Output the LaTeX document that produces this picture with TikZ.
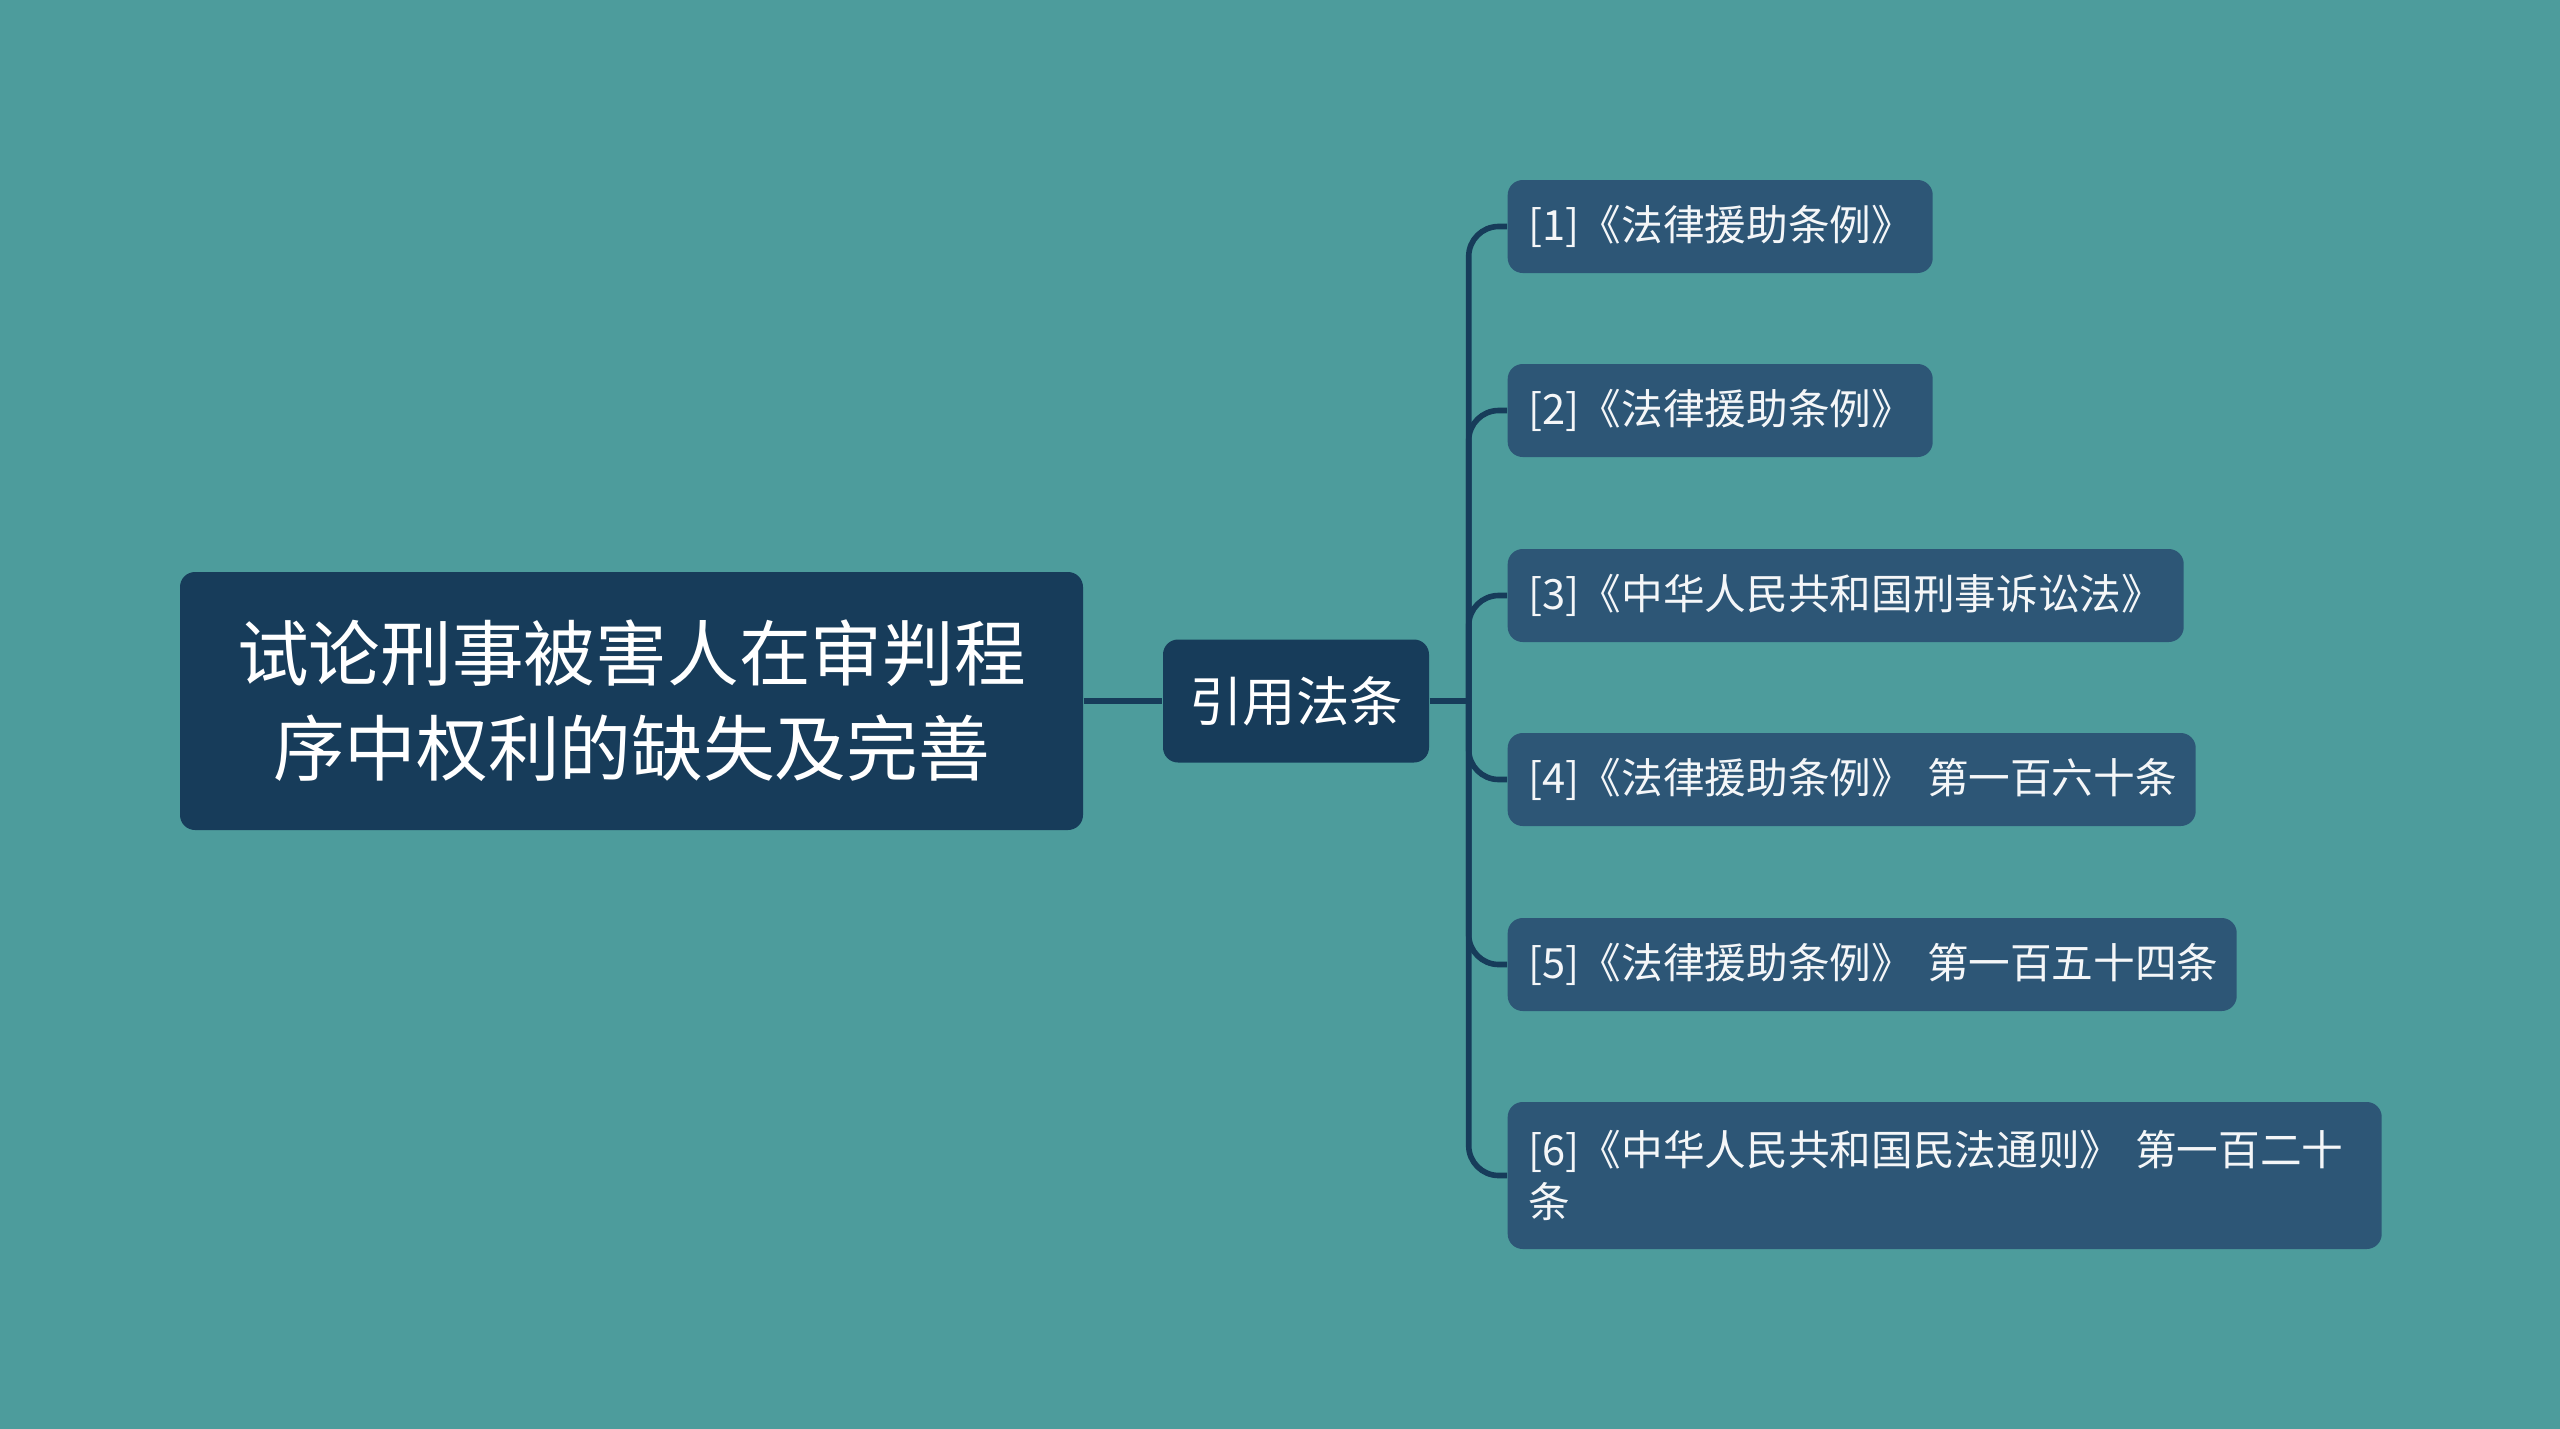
\documentclass[tikz,border=0pt]{standalone}
\usepackage{fontspec}
\setmainfont{Noto Sans CJK SC}
\usetikzlibrary{calc, positioning}
\definecolor{bg}{HTML}{4D9C9C}
\definecolor{navy}{HTML}{173C5A}
\definecolor{slate}{HTML}{2D5676}
\definecolor{ink}{HTML}{F4F6F8}
\tikzset{
  topic/.style={fill=navy, rounded corners=0.15cm, text=white, align=center},
  lawref/.style={fill=slate, rounded corners=0.15cm, text=ink, anchor=west, align=left, inner xsep=0.21cm, minimum height=0.93cm, text width=#1, font=\fontsize{11.85}{14.8}\selectfont},
  link/.style={draw=navy, line width=1.6pt},
}
\begin{document}
\begin{tikzpicture}
  \fill[bg] (0,0) rectangle (25.6,-14.29);
  \useasboundingbox (0,0) rectangle (25.6,-14.29);

  \node[topic, minimum width=9.03cm, minimum height=2.58cm, font=\fontsize{20.4}{27}\selectfont] (root) at (6.315,-7.01) {试论刑事被害人在审判程\\序中权利的缺失及完善};
  \node[topic, minimum width=2.66cm, minimum height=1.23cm, font=\fontsize{15.2}{18}\selectfont] (laws) at (12.96,-7.01) {引用法条};

  \node[lawref=3.83cm] (law1) at (15.07,-2.265) {[1]《法律援助条例》};
  \node[lawref=3.83cm] (law2) at (15.07,-4.105) {[2]《法律援助条例》};
  \node[lawref=6.34cm] (law3) at (15.07,-5.955) {[3]《中华人民共和国刑事诉讼法》};
  \node[lawref=6.46cm] (law4) at (15.07,-7.795) {[4]《法律援助条例》~第一百六十条};
  \node[lawref=6.87cm] (law5) at (15.07,-9.645) {[5]《法律援助条例》~第一百五十四条};
  \node[lawref=8.32cm, minimum height=1.47cm] (law6) at (15.07,-11.755) {[6]《中华人民共和国民法通则》~第一百二十\\条};

  \coordinate (trunk) at ($(laws.east)+(0.39,0)$);

  \draw[link] (root.east) -- (laws.west);
  \draw[link] (laws.east) -- (trunk);
  \draw[link, rounded corners=0.3cm] (trunk) |- (law1.west);
  \draw[link, rounded corners=0.3cm] (trunk) |- (law2.west);
  \draw[link, rounded corners=0.3cm] (trunk) |- (law3.west);
  \draw[link, rounded corners=0.3cm] (trunk) |- (law4.west);
  \draw[link, rounded corners=0.3cm] (trunk) |- (law5.west);
  \draw[link, rounded corners=0.3cm] (trunk) |- (law6.west);
\end{tikzpicture}
\end{document}
